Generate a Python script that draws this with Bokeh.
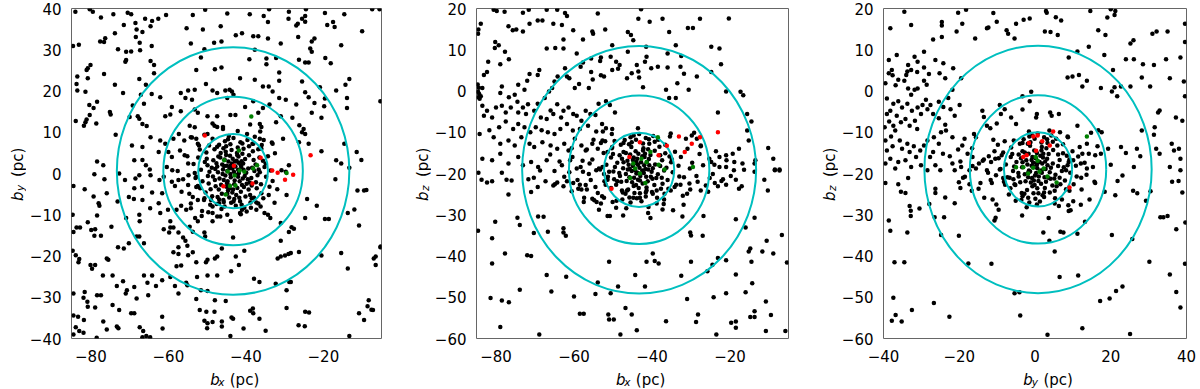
import math
from bokeh.plotting import figure
from bokeh.layouts import row, column
from bokeh.models import Range1d, FixedTicker, CustomJSTickFormatter
from bokeh.core.properties import value
from bokeh.embed import file_html
from bokeh.resources import INLINE

# ---------------- data ----------------
ring_radii = [9, 18, 30]
p1_center = (-43.3, 0.6)
p2_center = (-43.3, -19.1)
p3_center = (0.8, -19.0)

p1_black = [
(-84,39.2),(-80.3,39.8),(-79.5,39.2),(-74.2,38.6),(-70.5,39),(-69.6,38.6),(-77.4,37.8),(-66,37.5),(-64.2,37),(-62.6,37.5),(-60.6,38.4),(-53.7,38.4),(-50.5,39.7),(-44.8,38.8),(-39,38.6),(-35.4,38.2),(-34,39.8),(-28.9,39.2),(-29,37.5),(-24.5,39.8),(-24.7,38.2),(-25.5,37.5),(-19.6,38.9),(-14.6,38.6),(-7.4,39.8),(-5.5,39.8),
(-68.5,36.5),(-71.5,36),(-64.6,35.7),(-66.7,34.3),(-68.2,34.9),(-55.3,35.2),(-51.1,34.9),(-46.5,35.7),(-34.3,36.7),(-26.6,36.3),(-24.7,36.8),(-27,35.9),(-19,36),(-17.5,36.7),(-17.1,35.5),(-10,34.5),(-73.8,34),(-41,34),(-42.6,33.5),(-38.1,33.3),(-36.8,33.3),(-68.4,33.1),
(-77.6,32),(-76.3,32.8),(-76.6,31.9),(-67.4,31.7),(-64.3,30.9),(-54.2,31.5),(-48.2,31.7),(-46.3,32),(-34.3,32.7),(-31,31.5),(-26.5,33.1),(-22.3,32.7),(-23,32),(-23.4,30.3),(-15.4,31.1),(-83.1,31.2),(-84.6,30.9),(-73,30.1),(-70.9,29.5),(-69.6,29.6),(-67.3,29.9),(-50.7,30.1),(-37.7,30),
(-71.1,27.1),(-70.9,27.5),(-80.8,25.5),(-80.1,26.3),(-81.1,25.1),(-64.6,27.3),(-63.7,26.3),(-51.6,28.1),(-39.1,27.7),(-34.7,27.9),(-32.2,28),(-26.3,27.6),(-24.7,26.9),(-23.8,26.9),(-19.5,28),(-18.1,26.7),(-52.8,25.1),(-48,25.3),(-46.3,25.7),(-34.7,26.5),(-31.4,24.5),(-23,29.5),
(-83.5,23.5),(-80.8,23.1),(-76.6,24.1),(-73.8,21.5),(-67.5,22.9),(-65.8,21.5),(-63.7,24.3),(-50.3,21.7),(-45.3,20.1),(-44.2,20.3),(-43.6,19.9),(-41.5,23.1),(-37.7,22.7),(-35.6,21.1),(-34.1,21.1),(-31.4,22.5),(-25.5,22.3),(-20.9,20.9),(-13.3,22.9),(-14.3,21.5),(-16.7,20.1),(-83.7,21.7),(-83.5,20.1),(-81.4,19.8),(-71.7,19.5),
(-67.1,19.1),(-64.3,19.3),(-62.1,18.5),(-56.8,19.5),(-54.9,20.1),(-55.6,18.3),(-53.9,17.9),(-53.2,20.3),(-48.6,20.1),(-47.4,19.5),(-44.8,18.3),(-43.2,19.1),(-33.1,19.9),(-31.4,18.3),(-29.7,17.9),(-24.7,19.7),(-23.8,18.5),(-22.3,17.1),(-19.6,18.2),(-13.9,18.3),(-5.3,17.5),(-78.4,17.4),(-80.4,16.6),(-79.3,15.9),(-69.2,16.5),(-66.3,16.9),(-59.1,16.1),(-56.8,15.1),(-53.2,15.5),(-38.1,17.5),(-40.2,16.1),(-35.6,15.9),(-33.9,16.7),(-27,16.7),(-19.8,16.3),(-13.9,15.9),
(-75.1,14.9),(-74.9,14.3),(-80.3,14.2),(-81.1,13.1),(-83.9,12.7),(-81.4,12.4),(-81.8,11.6),(-78.6,12.1),(-67.9,13.9),(-67.5,13.3),(-70,13.7),(-66.7,12),(-65.6,11.5),(-60.8,13.9),(-59.5,14.3),(-52.4,14.7),(-49.9,13.9),(-47.4,13.9),(-48.6,12.1),(-47.4,11.3),(-44,14.2),(-42.7,14.2),(-36.8,14.7),(-36.4,12),(-36,11.3),(-32.2,12.4),(-31,13.9),(-28,13.5),(-23,14.7),(-20.5,13.5),(-26.2,11.7),(-25.1,10.8),(-73.6,9.4),(-54.5,11.6),(-53.2,11.2),(-49.9,9.6),(-45.9,11.3),
(-25.5,10),(-24.7,9.6),(-64.6,8.8),(-62.1,8),(-58.7,8.4),(-60.8,7.2),(-57.3,9.6),(-55.9,8),(-54.2,8.8),(-52.8,8.4),(-52.4,7.2),(-69.4,6.8),(-66.7,6.4),(-36.4,8.4),(-38.1,7.2),(-33.1,7.2),(-30.4,8.4),(-26.3,7.6),(-23.8,7.2),(-36,6),(-14.6,7.2),
(-78.4,2.9),(-76.8,2),(-68.8,3.2),(-66.7,3.3),(-65.8,2),(-62.5,5.2),(-60,5.2),(-59.1,4),(-57,5.6),(-55.8,4.4),(-54.9,2.4),(-20.5,5.4),(-16.7,3.2),(-11.4,5.2),(-10.2,3.3),(-15.4,2.4),(-13.3,1.4),(-29.7,0.4),(-28.9,2),(-60.4,1.6),(-59,0.8),(-57.6,0.6),(-79.1,-0.2),(-67.5,-0.4),(-64.6,-0.4),
(-76.5,-1.4),(-72.7,0),(-71.2,-1.6),(-68.5,-1.2),(-84.5,-3),(-81.6,-3.8),(-79.3,-5.6),(-78,-7.2),(-77.8,-7.8),(-75.9,-4.8),(-73.1,-6.8),(-70.2,-5.7),(-68.9,-6.2),(-66.7,-6.4),(-66.8,-3.2),(-68.8,-3.6),(-64.2,-4.6),(-62.3,-1.6),(-61.2,-0.8),(-64.8,1),
(-84.7,-10),(-80.8,-11.8),(-78.4,-10.2),(-84.5,-14.2),(-83.7,-13.1),(-82.8,-13.1),(-79.9,-13.7),(-78.9,-13.5),(-79.1,-15.1),(-77.4,-15.1),(-74.7,-12.9),(-70.9,-10.8),(-67.5,-10),(-67.4,-11.6),(-68.2,-15.3),(-67.5,-15.3),(-66.3,-16.9),(-70.2,-16.9),(-73,-17.9),(-71.5,-18.2),(-75.9,-20.6),(-75.5,-20.9),(-80.1,-22.2),(-78.9,-22.2),(-79.7,-23.1),(-83.9,-19.8),(-83,-20.7),(-83.2,-21.5),(-84.7,-18.7),
(-76.9,-24.7),(-74.4,-24.7),(-73.3,-27.3),(-71.7,-26.1),(-70.7,-28.3),(-71,-29.1),(-68.8,-27.5),(-66.3,-24.7),(-65.4,-26.5),(-64.2,-24.7),(-63.2,-27.3),(-61.6,-25.9),(-59.5,-25.1),(-58.3,-27.3),(-57.4,-29.1),(-65.2,-29.5),(-68.2,-30.3),(-84.5,-29.1),(-81.6,-28.7),(-81.9,-30.1),(-80.9,-31.1),(-78.4,-29.5),(-77.4,-29.5),(-78.9,-32.5),(-80.8,-32.3),(-74.4,-31.9),(-72.7,-33.1),(-69.6,-33.9),(-68.8,-33.9),(-84.5,-34.4),(-83.3,-34.7),(-81.8,-35.5),(-76.8,-35.9),(-73.3,-37.1),(-72.9,-37.5),(-75.9,-37.8),(-67.4,-37.3),(-66.5,-38.2),(-65.7,-39.4),(-64.7,-39.7),(-66.7,-39.7),(-83,-38.2),(-81.9,-38.6),(-84.5,-39),(-78.5,-39.8),(-83.9,-37.3),(-61.5,-37.6),(-61.6,-34.7),
(-60.1,-8.8),(-59.5,-11.6),(-59.5,-13.1),(-61.2,-13.5),(-59.8,-14.3),(-58.7,-13.1),(-57.4,-14.3),(-56.2,-15.5),(-55.6,-16.3),(-54.5,-12.9),(-53.7,-14.1),(-52.4,-11.6),(-53.1,-10.8),(-51.4,-10.3),(-49.7,-9.4),(-48.6,-9.6),(-48.6,-11.6),(-47.4,-10.4),(-50.7,-14.3),(-50.5,-15.3),(-55.1,-17.5),(-57.4,-17.9),(-58.7,-19.1),(-57.4,-19.5),(-54.9,-19.8),(-53.7,-19.1),(-52.8,-21.5),(-50.3,-21.5),(-49.9,-20.9),(-48,-20.6),(-47.4,-20.1),(-46.2,-18.2),(-43.3,-15.5),(-40.4,-18.7),(-42.6,-20.1),(-41.8,-22.2),(-43.8,-23.7),(-37.9,-25.5),(-36.5,-26.3),(-32.3,-26.7),(-28.8,-26.3),(-52.6,-25.1),(-49.9,-24.7),(-47.4,-24.7),(-57.9,-22.5),(-56.7,-22.3),(-55.4,-26.5),(-55.1,-27.1),(-51.6,-28.3),(-49.9,-28.5),(-52.8,-30.4),(-48,-30.7),(-45.2,-30.9),(-51.9,-33.1),(-50.2,-33.5),(-48.1,-33.5),(-50.7,-35.7),(-49.9,-36.3),(-48.6,-36),(-50,-37.5),(-46.2,-35.9),(-43.7,-34.9),(-43.3,-35.2),(-46.2,-37.1),(-44,-39.4),(-40.6,-37.6),(-38.9,-33.3),(-38.2,-32.7),(-38.1,-33.9),(-36.5,-35.2),(-34.9,-38.1),(-29.5,-32.6),(-29.5,-28.3),(-28.4,-26.3),(-26.4,-36.8),(-24.8,-37),(-24.7,-33.5),(-23.7,-33.7),(-31.8,-20.6),(-31,-20.1),(-29.9,-19.9),(-29,-19.5),(-28.4,-19.3),(-26.3,-19),(-20.5,-19.9),(-15.4,-19.3),(-13.7,-23),(-13.3,-39.4),(-10.8,-33.9),(-9.5,-35.5),(-8.3,-30.7),(-7.2,-33.1),(-6.5,-20.1),(-6.5,-22.2),(-5.2,-17.7),(-10.8,-12.6),(-18.6,-11),(-19.6,-11),(-24.7,-10.8),(-28.2,-13),(-27.6,-13.4),(-28.9,-14.2),(-31,-12),(-33.7,-10.8),(-34.3,-10),(-31,-16.3),(-13.7,-9.6),(-16.9,-1.4),(-11.2,-4.1),(-9.5,-4.1),(-8.9,-4),(-21.7,-7.8),(-24.2,-6.2),(-29.5,-5.2),(-38.5,-6),(-37.3,-8.8),(-36.2,-8),(-41,-8.8),(-41.5,-9.6),(-39.8,-9.2),(-44.8,-10),(-46.9,-7.2),(-45.8,-6.4),(-49,-6.4),(-50.7,-6),(-52.4,-6.4),(-53.7,-5.7),(-56.6,-4.4),(-58.3,-3),(-59.1,-2),(-57.4,-1.6),(-54.9,-2.8),(-54.8,-0.4),(-52.8,-0.8),(-52.8,-3.3),(-61.6,-4.8),(-62.5,-7.2),(-64.7,-8.4),(-62.1,-9.6),(-57.9,-8.8),(-56.7,-7.8),(-55.4,-8.8),(-54.2,-8.4),(-48.6,-8),(-43.2,-6.8),(-41.1,-7.6),(-37.3,-7),(-44.8,-4.9),(-12,-8.7),(-5.3,-17.9),(-7,-20.6),(-8.6,-32.2),(-7.6,-33),
# core
(-43.1,0.4),(-44.2,1.3),(-42.0,-0.8),(-45.3,-0.5),(-41.2,1.6),(-43.6,2.4),(-44.7,-1.9),(-42.4,3.1),(-46.1,2.2),(-40.3,-0.6),(-43.0,-2.6),(-45.5,3.4),(-41.0,-2.8),(-47.2,0.3),(-39.4,1.2),(-44.1,4.3),(-42.3,5.0),(-46.4,-2.7),(-40.2,3.5),(-48.0,-1.6),(-38.6,-1.1),(-45.2,5.3),(-43.5,-4.6),(-41.3,-4.4),(-47.1,4.1),(-39.2,4.4),(-48.8,1.4),(-37.5,2.2),(-44.3,-5.8),(-46.2,-4.9),(-40.1,-5.6),(-48.4,3.2),(-42.1,6.3),(-44.0,7.1),(-49.8,-0.6),(-36.4,0.3),(-38.2,5.4),(-47.3,-5.7),(-39.3,-3.9),(-50.6,2.8),(-35.6,3.1),(-45.4,7.8),(-41.4,7.6),(-49.1,-3.8),(-37.2,-3.6),(-43.2,8.6),(-38.3,7.2),(-48.1,5.9),(-50.2,5.1),(-36.1,-2.6),(-42.7,1.7),(-43.9,-0.9),(-44.8,0.6),(-41.8,0.1),(-42.9,-1.7),(-45.9,1.0),(-40.7,2.4),(-44.5,2.9),(-41.6,-1.9),(-46.8,-1.2),(-39.9,0.2),(-43.4,3.6),(-45.0,-3.2),(-42.2,-3.5),(-47.6,2.5),(-39.0,-2.2),(-46.6,3.9),(-40.9,4.8),(-44.6,-4.1),(-38.0,3.3),(-49.4,0.4),(-37.0,-0.4),(-45.8,6.1),(-40.6,6.0),(-47.8,-3.1),(-38.9,-5.2),(-51.2,-1.9),(-35.2,1.6),(-46.9,7.0),(-39.6,8.1),(-43.8,-7.1),(-41.5,-6.7),(-45.7,-6.9),(-51.6,0.9),(-34.8,-0.8),(-49.5,6.8),(-36.8,5.9),(-50.4,-4.6),(-36.0,-4.8),(-42.6,-7.8),(-47.5,-7.4),(-38.8,-7.0),(-52.3,3.9),(-34.3,4.2),(-44.4,9.1),(-39.7,9.6),(-50.8,-6.4),(-35.5,-6.0),(-53.0,-1.1),(-33.6,0.7),(-48.6,8.4),(-37.7,8.9),(-46.3,-8.6),(-40.4,-8.3),(-43.7,5.7),(-41.1,3.0),(-46.0,-0.1),(-42.5,-5.2),(-44.9,-2.3),(-40.5,-3.3),(-47.9,1.1),(-41.9,4.1),(-45.1,4.5),(-39.5,-1.4),(-42.8,2.9),(-43.3,-3.9),(-46.5,5.0),(-38.4,1.4),(-44.0,-0.1),(-42.0,0.9),(-45.6,1.8),(-40.8,-1.2),(-43.9,1.9),(-41.3,2.0),(-44.3,-2.9),(-47.0,-3.9),(-36.7,1.0),(-38.5,-2.9),(-49.9,2.0),(-37.9,-5.9),(-48.7,-5.5),(-35.9,6.9),(-51.9,5.8),(-33.9,-3.2),(-53.5,2.3),(-52.4,-3.0),(-34.1,-5.2),
(-43.5,1.2),(-42.6,-0.3),(-44.9,1.9),(-41.9,2.6),(-45.7,-1.6),(-40.6,0.9),(-44.2,-3.6),(-42.2,4.4),(-47.4,1.7),(-39.8,-2.5),(-45.1,6.6),(-41.7,-5.9),(-48.5,-0.7),(-37.8,0.6),(-46.9,-6.3),(-39.2,6.6),(-50.1,3.6),(-36.5,3.9),(-43.0,-6.2),(-44.6,8.3),(-49.6,-2.4),(-37.4,-2.1),(-47.4,6.5),(-40.9,7.3),(-45.5,-8.0),(-38.7,-8.3),(-51.8,-3.6),(-34.9,2.4),(-53.2,0.1),(-33.1,-1.8),(-52.1,6.8),(-35.4,8.1),(-49.2,-7.6),(-36.8,-7.3),(-42.1,10.3),(-45.9,10.8),(-41.3,-9.9),(-46.6,-10.4),(-54.6,-4.9),(-32.5,4.9),(-55.1,4.2),(-31.9,-3.8),(-50.7,9.4),(-36.3,10.2),(-51.3,-9.1),(-35.2,-9.6),(-56.2,-1.4),(-30.8,0.8),(-48.1,11.6),(-38.9,11.9),(-43.9,-11.5),(-53.9,8.7),(-54.2,-7.3),(-33.3,7.5),(-32.6,-7.1),
]
p1_red = [(-50.6,9.2),(-23.3,4.4),(-36.2,3.8),(-43.1,1.9),(-33.2,0.7),(-31.8,0.2),(-27.8,-0.3),(-29.9,-1.5),(-38.3,-2.4),(-45.8,-3.1)]
p1_green = [(-38.6,13.8),(-41.8,5.6),(-45.6,3.2),(-37.1,2),(-38.1,1.2),(-29.5,0.1),(-44.7,0.5),(-41.6,0.7),(-40.4,0.4),(-42.9,-0.5),(-42.7,-2.9),(-44.1,-3),(-45.2,-5.1)]

p2_black = [
(-80.6,19.7),(-79.8,19.4),(-77.8,19.2),(-73.1,19),(-71.6,19.7),(-67,19.7),(-64.3,19.7),(-62.3,18.9),(-61.8,18.2),(-53.9,18.8),(-42.8,19.8),(-43.5,17.5),(-40.6,16.8),(-37.3,17.5),(-27.7,17.5),(-20.3,17.6),(-29.5,15.3),(-30.8,15.3),(-35.6,14.3),(-83.9,16.3),(-84.5,14.9),(-84.6,13.9),(-76.8,15.7),(-75.7,14.7),(-74.8,14.9),(-73.1,14.4),(-71.4,16.3),(-69.3,17.1),(-68.1,17.1),(-65.3,16.3),(-63.1,16),(-60.2,14.7),(-55.3,14.4),(-55.1,13.9),(-52,14.9),(-46.2,14.3),(-45.4,13.6),(-57.7,12.5),(-62.7,12.5),(-80.2,11.9),(-79.3,11.1),(-80.3,10.4),(-77.7,9.5),(-76.7,7.7),(-78.9,6.5),(-82,7.1),(-83.1,3.9),(-82.3,4.6),(-83.5,0.7),(-84.3,-0.7),(-84.5,-1.5),(-83.9,-1.3),
(-67,10.3),(-64.8,10.4),(-62.7,10.3),(-59.3,9.1),(-58.3,5.9),(-57.7,6.9),(-55.6,7.9),(-53.1,8.1),(-53.3,7.3),(-50.6,8.3),(-49.2,7.1),(-48.3,6.3),(-48.7,5.4),(-43.5,4.7),(-43.3,3.3),(-42.3,0.9),(-46.4,3.1),(-45.2,4.3),(-50.2,5.1),(-52.3,3.5),(-53.1,3.8),(-55.2,2.8),(-55.6,4.6),(-56.2,0.7),(-58.7,1.7),(-59.8,0.7),(-61.2,3.1),(-61.8,3.5),(-62.3,5.5),(-64.2,3.5),(-65,2.3),(-65.6,0.7),(-66.4,-0.1),(-67.5,-1.7),(-68.9,5.1),(-69.3,3.9),(-71.4,4.1),(-72,2.5),(-72.7,0.3),(-74.3,1.5),(-75.2,-0.9),(-76.7,-1.5),(-78.5,1.1),(-78.9,-0.5),(-80,-4),(-78.5,-3.6),(-77.5,-5.2),(-76.2,-4),(-74.5,-2.6),(-74.3,-5.2),(-73.1,-4),(-72.3,-5.6),(-71.8,-3.2),(-70.2,-4.8),(-69.3,-3.1),(-68.5,-6.4),(-67,-6.8),(-66,-4.7),(-65.3,-5.6),(-64.3,-3.2),(-63.3,-6.4),(-62.7,-4.8),(-61.4,-4),(-60.2,-5.6),(-59.3,-6),(-58.1,-7.2),(-57,-4.8),(-55.8,-5.6),(-54.5,-5.8),(-53.7,-3.1),(-51.8,-2.5),(-50.8,-3.4),(-49.5,-5.2),(-52.8,-8),(-51.8,-9),(-50.2,-9.2),(-50.3,-10.4),(-54.3,-9.8),(-56.4,-8.4),(-58.5,-9.2),(-60.3,-9.6),(-61.8,-8),(-63.5,-9.2),(-65,-10.4),(-66.7,-10),(-68.3,-9.5),(-69.8,-8.8),(-71.2,-10),(-72.7,-8.8),(-74.3,-8),(-75.6,-9.2),(-77.5,-7.4),(-79.2,-8.8),(-81,-6.4),(-82.3,-4.8),(-83.5,-3.6),(-83.1,-6),(-81.7,-9.5),(-84.2,-10.4),(-80.6,-11.2),(-78.9,-12.8),(-76.8,-12),(-75.2,-13.2),(-73.5,-11.2),(-71.4,-12.8),(-70.2,-13.6),(-68.1,-12.4),(-66,-13.2),(-64.3,-14),(-62.5,-12.8),(-61.4,-14.4),(-59.8,-11.6),(-58.1,-13.2),(-57,-14.4),(-55.3,-12.8),(-53.9,-14),(-52.7,-12),(-51.4,-14.8),(-50.2,-13.6),(-83.5,-16.4),(-81,-16.8),(-78.9,-15.2),(-76.8,-17.6),(-74.3,-16),(-73.1,-18),(-71,-17.2),(-69.2,-18.4),(-67,-16.8),(-65,-19.4),(-63.1,-18),(-61,-16.8),(-59.3,-18.8),(-57.7,-19.6),(-56,-17.6),(-54.3,-19.2),(-52.7,-18.4),(-51,-19.6),
(-43.9,6.3),(-41.8,7.1),(-41.4,8.3),(-40.2,5.5),(-38.5,5.9),(-36,5.7),(-32.7,5.9),(-31.8,4.2),(-28.5,3.5),(-33.5,1.9),(-36.4,0.3),(-35.6,-1.7),(-33.9,-1.7),(-30.6,0.3),(-24.8,4.6),(-22.3,6.5),(-36,9.1),(-32.5,8.5),(-41.5,10.7),(-46.2,9.5),(-50.2,11.1),(-44.8,12.3),(-33.9,11.1),(-24.8,10.7),(-22.7,10.3),(-17.3,-0.2),(-16.6,-1),(-21,-0.1),(-23.1,-5.2),(-15.6,-5.6),(-14.5,-7.4),(-15.2,-12),(-15.6,-9.6),(-10.2,-13.8),(-8.9,-16.4),(-8.5,-19.2),(-7.3,-19),(-13.5,-16.8),(-13.7,-17.6),(-13.7,-19.6),(-17.7,-14),(-19.3,-15.2),(-21,-15.6),(-22.7,-16),(-18.9,-17.2),(-16.8,-17.6),(-19,-19.2),(-21,-18.4),(-22.7,-18.4),(-24.8,-17.2),(-27.5,-13.2),(-28.5,-11.6),(-29.8,-10.8),
(-84.5,-19.8),(-83.7,-21.5),(-82.3,-22.2),(-81,-21.9),(-78.5,-19.8),(-77.3,-21.5),(-76,-21.7),(-76.8,-25.1),(-71.7,-21.4),(-70.3,-21),(-71,-24.5),(-69.3,-23.3),(-68.7,-19.3),(-67.3,-21.9),(-65.3,-22.9),(-64.3,-22.2),(-62.7,-23.1),(-61.8,-21.9),(-60.6,-24.3),(-60.2,-22.3),(-58.5,-22.7),(-58.1,-23.9),(-57.5,-26.9),(-56.7,-23.9),(-55.3,-26.1),(-54.2,-26.9),(-53.9,-24.7),(-52.8,-25.5),(-53.1,-27.3),(-52.3,-25.9),(-51.4,-30.3),(-50.8,-30.3),(-51.4,-21.5),(-52.3,-20.1),(-48.9,-21.9),(-49.2,-28.3),(-47.7,-24.1),(-46.4,-24.1),(-44.8,-25.9),(-43.1,-25.9),(-41.4,-24.1),(-41,-29.6),(-39.8,-24.9),(-37.7,-23.7),(-36.8,-24.9),(-37.3,-28.7),(-35.2,-24.1),(-34.2,-23.3),(-32.7,-22.7),(-32.2,-30.4),(-31,-24.9),(-30.2,-23.9),(-27.5,-24.1),(-26.8,-30.3),(-25.2,-21.1),(-23.9,-22.3),(-23.1,-23.1),(-21.8,-21.4),(-21,-22.7),(-18.5,-21.5),(-17.7,-23.7),(-17,-23.1),(-16.4,-19.1),(-11.2,-21.5),(-8.5,-19),(-7.3,-19.3),(-10.3,-24.1),(-18.5,-31.1),(-16,-33.1),(-13.7,-30.7),(-10.6,-36.3),(-6.7,-34.9),(-14.8,-38.2),(-15.2,-38.9),(-11.7,-38.9),(-8.9,-39.4),(-5.4,-41.6),(-14.5,-41.4),(-14.3,-46.6),(-13.7,-53.4),(-14.8,-54.8),(-13.7,-54.8),(-10.8,-51),(-9.5,-54.3),(-10.8,-58.2),(-5.8,-58.2),(-16,-48.8),(-19.7,-56.2),(-18.5,-55.9),(-18.5,-57.4),(-21,-49),(-18.5,-44.5),(-21,-41),(-24.5,-42.1),(-25.8,-43.7),(-23.1,-40.5),(-27,-35.1),(-30.2,-34.3),(-30,-35),(-32.5,-44.8),(-30,-41.4),(-31,-50.4),(-28.2,-54.2),(-24.2,-50),(-23.5,-59),(-28.7,-56),(-36.4,-55.8),(-38.3,-41.8),(-39.3,-41.2),(-39.8,-39.4),(-41.4,-41.4),(-41.8,-47.4),(-44.3,-44.6),(-45.2,-54.2),(-43.9,-58),(-48.1,-59),(-46.8,-52.6),(-48.7,-47.4),(-50.6,-49),(-51,-41.4),(-53.9,-46.4),(-54.5,-49.2),(-58.5,-54),(-57.5,-54),(-60,-49.8),(-62,-45),(-62.7,-34.3),(-62.1,-35.1),(-62.7,-33.3),(-66.7,-34.1),(-67,-44.6),(-65.8,-48.6),(-67.8,-30.5),(-69.2,-30.4),(-70.3,-34.4),(-72,-39.8),(-71,-40),(-73.9,-48.2),(-74.5,-30.7),(-73.9,-32.5),(-77.7,-39.4),(-76.7,-51.2),(-78.5,-50.8),(-81.4,-50.2),(-78.9,-57.2),(-68.9,-59),(-80.2,-31.7),(-81,-35.7),(-81,-41.8),(-84.6,-33.9),(-51,-55.4),(-49.8,-55.4),(-51.2,-54.2),(-84.6,-0.2),(-84.4,0.8),(-84.7,1.6),(-84.2,-1.9),
# core
(-43.2,-18.6),(-44.4,-17.5),(-42.1,-19.9),(-45.2,-19.4),(-41.3,-17.2),(-43.8,-16.4),(-44.6,-21.0),(-42.5,-15.8),(-46.3,-16.9),(-40.1,-19.6),(-43.1,-21.7),(-45.6,-15.4),(-41.1,-21.9),(-47.4,-18.7),(-39.2,-17.8),(-44.2,-14.6),(-42.2,-13.9),(-46.5,-21.8),(-40.4,-15.5),(-48.2,-20.6),(-38.5,-20.2),(-45.3,-13.6),(-43.4,-23.5),(-41.4,-23.4),(-47.3,-14.8),(-39.3,-14.5),(-48.9,-17.4),(-37.4,-16.8),(-44.5,-24.7),(-46.1,-23.9),(-40.0,-24.5),(-48.3,-15.6),(-42.3,-12.7),(-44.1,-11.8),(-49.9,-19.5),(-36.3,-18.6),(-38.1,-13.5),(-47.5,-24.6),(-39.4,-22.8),(-50.5,-16.1),(-35.5,-15.9),(-45.5,-11.2),(-41.6,-11.4),(-49.2,-22.7),(-37.3,-22.5),(-43.3,-10.4),(-38.4,-11.8),(-48.0,-13.0),(-50.3,-13.9),(-36.0,-21.6),(-42.8,-17.3),(-43.7,-19.8),(-44.9,-18.2),(-41.7,-18.9),(-43.0,-20.6),(-46.0,-17.9),(-40.8,-16.5),(-44.7,-16.1),(-41.5,-20.8),(-46.7,-20.1),(-39.8,-18.7),(-43.5,-15.2),(-45.1,-22.1),(-42.4,-22.4),(-47.7,-16.4),(-38.9,-21.1),(-46.7,-15.0),(-41.0,-14.1),(-44.7,-23.0),(-37.9,-15.6),(-49.5,-18.4),(-36.9,-19.3),(-45.9,-12.9),(-40.7,-12.8),(-47.9,-22.0),(-38.8,-24.1),(-51.3,-20.8),(-35.1,-17.3),(-47.0,-11.9),(-39.7,-10.9),(-43.9,-26.0),(-41.6,-25.6),(-45.8,-25.8),(-51.7,-17.9),(-34.7,-19.7),(-49.6,-12.1),(-36.6,-13.0),(-50.5,-23.5),(-35.8,-23.7),(-42.7,-26.7),(-47.6,-26.3),(-38.7,-25.9),(-52.4,-15.0),(-34.1,-14.7),(-52.2,-21.9),(-33.2,-18.1),(-53.6,-18.8),(-32.6,-16.0),(-31.8,-20.9),(-54.5,-23.3),(-30.9,-14.0),(-55.3,-16.6),(-29.7,-17.4),(-33.8,-22.7),(-53.1,-12.6),(-30.4,-22.4),(-56.2,-20.1),(-28.6,-20.6),(-57.0,-22.8),(-27.8,-15.3),(-56.7,-14.2),(-26.9,-18.0),(-58.3,-18.4),(-26.2,-22.9),(-59.1,-21.6),(-25.3,-16.4),(-60.4,-16.0),(-24.4,-20.1),(-61.2,-19.7),(-23.6,-14.6),(-43.6,-9.0),(-40.9,-28.1),(-46.6,-28.4),(-37.0,-27.4),(-50.1,-26.9),(-35.2,-10.3),(-52.6,-9.8),(-32.1,-25.4),(-54.8,-26.5),(-31.3,-11.6),(-44.0,-20.0),(-42.0,-18.0),(-45.7,-18.9),(-40.3,-20.8),(-44.3,-19.2),(-41.9,-16.0),(-43.6,-21.5),(-46.2,-19.0),(-41.0,-19.0),(-44.0,-17.2),
(-43.6,-17.9),(-42.5,-19.3),(-44.9,-16.7),(-41.8,-15.2),(-45.8,-20.9),(-40.7,-18.0),(-44.1,-22.8),(-42.3,-14.4),(-47.3,-17.3),(-39.9,-21.3),(-45.2,-12.4),(-41.6,-24.6),(-48.4,-19.9),(-37.9,-18.2),(-46.8,-24.9),(-39.3,-12.3),(-50.0,-15.3),(-36.6,-15.1),(-43.1,-24.8),(-44.7,-10.8),(-49.7,-21.4),(-37.5,-21.0),(-47.3,-12.6),(-40.8,-11.7),(-45.5,-27.0),(-38.8,-27.3),(-51.9,-22.7),(-34.9,-16.6),(-53.3,-19.0),(-33.0,-20.7),(-52.0,-12.2),(-35.4,-11.0),(-49.1,-26.6),(-36.9,-26.3),(-55.7,-21.6),(-30.3,-18.8),(-57.8,-16.9),(-28.3,-22.0),(-58.9,-23.7),(-27.5,-13.4),(-60.6,-13.9),(-25.6,-24.4),(-62.5,-20.8),(-24.0,-17.9),(-63.7,-17.1),(-22.2,-21.8),(-55.0,-11.8),(-31.9,-27.6),(-57.4,-25.9),(-29.2,-10.1),(-53.6,-28.8),(-34.6,-28.9),(-47.4,-30.2),(-40.4,-30.8),(-64.9,-22.6),(-20.9,-16.8),(-66.1,-15.4),(-19.8,-20.6),
]
p2_red = [(-43.1,-12.4),(-33.1,-11),(-27.7,-11.2),(-23.1,-10),(-36.2,-13.3),(-29.8,-12.8),(-31.6,-14.8),(-38.3,-15.6),(-45.8,-16),(-50.4,-23.7)]
p2_green = [(-38.5,-11.2),(-40.4,-14.8),(-42.7,-16.4),(-41.4,-17.3),(-38.3,-17.9),(-44.8,-17.6),(-44.3,-18.8),(-43.1,-20),(-36.8,-19),(-45.6,-21.1),(-41.7,-22.3),(-29.5,-18.4)]

p3_black = [
(-34.5,19.2),(-18.2,19.7),(-20.3,19),(-11,18.9),(2.9,19.4),(3.1,19),(5.5,17.9),(6.9,17.1),(-3,17.3),(-5,16.3),(-1.4,17.6),(-10.1,16.8),(-12.7,15.2),(-12.3,15.4),(-19.2,16.3),(-24.6,16.7),(-24.6,15.9),(-32.7,16),(-38.2,15.2),(-20.7,14.4),(-26.9,12.5),(-24.6,13.1),(-15.8,12.7),(-7.5,14.7),(-7.1,13.9),(-5.4,12.7),(2.6,14.4),(4.1,14.3),(6,13.6),(14.6,19.4),(20,19.8),(21.2,19.4),(21,18.4),(19.1,17.8),(16.7,14.7),(18.6,13.6),(25.2,11.5),(26,12.3),(31,13.9),(32.1,14.4),(35,14.4),(39.6,16.3),(39.6,11.9),(38.4,8.1),(34.6,7.7),(31.4,6.3),(28.5,6.5),(26.1,7.7),(24,7.7),(20.6,5.1),(18.3,8.7),(14.2,10.7),(11.2,9.6),(8.9,8.1),(11.6,3.9),(9.9,3.5),(12.5,1.1),(8.6,3.3),(13.7,2.5),(17.4,0.7),(21,0.9),(20.3,-0.1),(21.7,-1.3),(22.7,1.1),(25.2,1.1),(28.2,3.3),(30.4,1.1),(35.6,3.1),(39.3,2.3),(39.6,-1.3),(38.9,-7.2),(37.2,-6.4),(32.9,-4.7),(32.5,-5.2),(31.6,-8.8),(31.4,-10.6),(32,-14),(32.9,-15.2),(36.1,-12.8),(36.7,-14.4),(38,-14),(38.4,-16.4),(35.6,-18.4),(38.4,-19.2),(28.2,-9.6),(26.9,-14),(27.8,-15.8),(26.1,-18.4),(24,-15),(22.7,-13.6),(19.3,-14),(17.4,-15.2),(15.9,-15.6),(13.7,-12.8),(12.5,-15.2),(12.1,-17.6),(8.6,-18),(10.1,-16.8),(8.2,-19.2),(17.6,-10),(16.7,-9.5),(11.2,-8.4),(6.3,-5.6),(4.4,-6),(4,-5.2),(0.5,-5.6),(0.3,-6.4),(-1.4,-2.5),(-3.3,-1.3),(-1,-0.2),(-3.3,-4.5),(-6.3,-6.4),(-5,-8),(-9,-5.6),(-8,-4.4),(-9.3,-3.4),(-10.1,-7.9),(-12.7,-8.4),(-13.9,-4.8),(-13.5,-6.3),(-11.8,-9),(-16.1,-10.4),(-15.6,-11.2),(-18.6,-11.6),(-19.2,-13.2),(-21.8,-11.2),(-20.3,-14.2),(-23.5,-9.6),(-23.7,-8.2),(-24.8,-10),(-25.4,-12.8),(-26.9,-14.8),(-27.7,-16),(-28.4,-12),(-29.3,-13.2),(-26.7,-11.2),(-24.3,-15.2),(-22.5,-15.8),(-21.8,-17.6),(-17.8,-15.2),(-16.5,-16),(-16.5,-18.2),(-14.8,-17.6),(-13.5,-16.6),(-12.2,-15.8),(-10.7,-14.6),(-10.5,-16.4),(-8.8,-15.6),(-12.7,-19.2),(-15.6,-18.8),(-17.3,-19.2),(-19.5,-18.4),(-21.2,-19.2),
(-37.8,5.1),(-37.6,3.8),(-38.6,4.3),(-39.5,1.9),(-39.1,-1.8),(-36.8,1.4),(-36.1,2.7),(-34.5,2.5),(-34,3.9),(-33.5,0.6),(-32.7,-0.9),(-31.8,0.3),(-31,0.6),(-29.3,2.5),(-28.6,1.5),(-28.8,-2.1),(-29.7,-3.4),(-31,-4),(-32.5,-4.8),(-33.7,-3.1),(-35.1,-4),(-36.1,-2.5),(-37.4,-3.1),(-38.2,-4.8),(-39.1,-5.6),(-38.5,-7.4),(-36.5,-6),(-35.4,-7.6),(-34.2,-6.8),(-33.1,-8.4),(-31.7,-7.2),(-31.1,-9.2),(-30.1,-5.6),(-28.4,-4.4),(-26.9,-5.6),(-27.6,-3.4),(-25.4,-2.6),(-24.2,-3.9),(-22.9,-1.7),(-22.3,-4.4),(-21.2,-6),(-21.8,0.3),(-19.5,3.1),(-19.9,-3.4),(-25.4,-6.6),(-36.9,-9.6),(-38,-11),(-39.5,-12),(-39.1,-14.4),(-37.6,-13.4),(-35.7,-12),(-35.1,-14),(-33.7,-12.8),(-33.1,-14.8),(-32,-13.4),(-31.4,-16),(-30.3,-14.4),(-34.2,-16.8),(-36.1,-17.2),(-38.2,-16.4),(-39.5,-17.6),(-36.9,-18.8),(-32.7,-18.4),(-30.1,-18),(-28.4,-19.2),(-26.3,-18),(-25,-19.2),(-37.4,-8.4),(-39.7,-8.8),
(-32.7,5.1),(-31.1,4.6),(-33.7,4.7),(-29.3,5.7),(-28,4.1),(-25.2,4.3),(-23.7,3.1),(-33.5,6.3),(-31,7.1),(-36.5,8.7),(-38.6,7.5),(-26.3,7.5),(-29.3,9.5),(-24.2,6.7),(-21.6,5.5),(-31.8,8.3),
(-39.5,-22.3),(-36.1,-22.6),(-35.4,-24.4),(-34.2,-24.7),(-33.5,-21.1),(-33.1,-27.9),(-32.8,-29),(-32.8,-30.3),(-38.6,-31.4),(-38.2,-33.9),(-33.7,-34.3),(-30.5,-28.5),(-27.9,-27.4),(-26.3,-23.7),(-26.3,-24.7),(-26.5,-30.6),(-24,-30.6),(-24.8,-34.9),(-23.7,-25.8),(-21.2,-27.2),(-20.1,-22.1),(-20.1,-35.1),(-19,-21),(-19.7,-23.5),(-17.3,-22.6),(-16.7,-24.2),(-14.4,-22.3),(-11.4,-22.3),(-11.2,-26.3),(-10.7,-31.4),(-10.4,-30.7),(-10.2,-27.5),(-11.5,-41.9),(-17.6,-41.8),(-26.7,-51.4),(-32.5,-53.1),(-37.4,-50.1),(-37.8,-55.7),(-36.8,-54.3),(-35.2,-55.9),(-37.1,-41.5),(-34.5,-41.5),(-22.6,-54.7),(-5.4,-49),(-4.1,-48.8),(-3.9,-54.4),(3.3,-59.1),(2.2,-34.3),(3.8,-36.3),(5.2,-38.9),(6.5,-45.1),(6.7,-34.1),(7.5,-34.3),(10.1,-26.7),(8.8,-27.7),(8.9,-29.1),(6.3,-27.9),(5.7,-23.1),(9.1,-24.2),(11.2,-34.6),(11.4,-44.7),(12.5,-57.5),(13.2,-31.7),(14.4,-26.3),(15.9,-22.3),(17.2,-50.9),(19.7,-50.3),(20.3,-34.9),(21.4,-48.5),(23.1,-47.4),(25.1,-58.9),(25.7,-35.9),(25.9,-24.2),(27,-24.8),(21.2,-25.3),(23.1,-20.5),(30.2,-41.4),(30.5,-24.3),(29.3,-26.6),(33.1,-30.6),(33.9,-30.6),(35,-30.3),(35.6,-44.5),(37.3,-33.5),(37.3,-48.7),(38.4,-52.5),(39.6,-41.9),(39.7,-31.9),(37.9,-21.8),(36.2,-22),(38.9,-24.6),(12.3,-23.9),(-6.9,-25.1),(-3.3,-25.5),(-2.2,-28.2),(0.5,-27.5),(2,-25.3),(-5.4,-22.6),(-6.7,-21),(-8.4,-21.1),
# core
(0.6,-18.7),(-0.5,-17.4),(1.8,-19.8),(-1.3,-19.5),(2.7,-17.1),(0.2,-16.3),(-0.8,-21.1),(1.4,-15.7),(-2.3,-16.8),(3.9,-19.7),(0.9,-21.8),(-1.7,-15.2),(2.9,-22.0),(-3.4,-18.5),(4.7,-17.6),(-0.2,-14.4),(1.8,-13.6),(-2.5,-21.9),(3.6,-15.3),(-4.3,-20.7),(5.4,-20.3),(-1.3,-13.3),(0.6,-23.6),(2.6,-23.5),(-3.3,-14.6),(4.8,-14.3),(-4.9,-17.2),(6.5,-16.7),(-0.4,-24.8),(-2.1,-24.0),(3.9,-24.6),(-4.3,-15.4),(1.7,-12.5),(-0.1,-11.6),(-5.8,-19.4),(7.6,-18.5),(5.9,-13.2),(-3.5,-24.7),(4.6,-22.9),(-6.4,-16.0),(8.4,-15.7),(-1.5,-11.0),(2.4,-11.2),(-5.2,-22.8),(6.7,-22.6),(0.7,-10.3),(5.6,-11.6),(-4.0,-12.8),(-6.3,-13.7),(7.9,-21.7),(1.2,-17.2),(0.3,-19.9),(-0.9,-18.1),(2.3,-18.9),(1.0,-20.7),(-2.0,-17.8),(3.2,-16.4),(-0.7,-16.0),(2.5,-20.9),(-2.7,-20.2),(4.2,-18.6),(0.5,-15.0),(-1.1,-22.2),(1.6,-22.5),(-3.7,-16.3),(5.1,-21.2),(-2.7,-14.9),(3.0,-13.9),(-0.7,-23.1),(6.1,-15.4),(-5.5,-18.3),(7.1,-19.4),(-1.9,-12.8),(3.3,-12.6),(-3.9,-22.1),(5.2,-24.2),(-7.3,-20.9),(8.9,-17.2),(-3.0,-11.7),(4.3,-10.8),(0.1,-26.1),(2.4,-25.7),(-1.8,-25.9),(-7.7,-17.8),(9.3,-19.8),(-5.6,-12.0),(7.4,-12.9),(-6.5,-23.6),(8.2,-23.8),(1.3,-26.8),(-3.6,-26.4),(5.3,-26.0),(-8.4,-14.9),(9.9,-14.6),(-8.2,-22.0),(10.8,-18.1),(-9.1,-18.9),(11.4,-15.9),(12.2,-21.0),(-9.6,-16.3),(13.1,-17.4),(-10.3,-20.4),(10.2,-22.6),(-9.8,-13.0),(6.6,-10.0),(3.8,-9.6),(-1.6,-9.8),(8.7,-11.2),(-0.4,-18.4),(1.9,-17.6),(-1.6,-19.3),(3.5,-21.0),(0.0,-20.5),(2.1,-16.1),(-0.3,-21.7),(-1.8,-19.8),(2.8,-18.9),(0.4,-17.5),(11.8,-13.6),(14.2,-15.2),(-11.6,-17.2),(13.6,-20.3),(-12.4,-19.8),(15.3,-18.4),
(0.5,-17.9),(1.6,-19.3),(-0.9,-16.7),(2.2,-15.2),(-1.8,-20.9),(3.3,-18.0),(-0.1,-22.8),(1.7,-14.4),(-3.3,-17.3),(4.1,-21.3),(-1.2,-12.4),(2.4,-24.6),(-4.4,-19.9),(6.1,-18.2),(-2.8,-24.9),(4.7,-12.3),(-6.0,-15.3),(7.4,-15.1),(0.9,-24.8),(-0.7,-10.8),(-5.7,-21.4),(6.5,-21.0),(-3.3,-12.6),(3.2,-11.7),(-1.5,-27.0),(5.2,-27.3),(-7.9,-22.7),(9.1,-16.6),(-9.3,-19.0),(11.0,-20.7),(-8.0,-12.2),(8.6,-11.0),(-5.1,-26.6),(7.1,-26.3),(-11.7,-21.6),(13.7,-18.8),(-13.8,-16.9),(15.7,-22.0),(-14.9,-23.7),(16.5,-13.4),(-16.6,-13.9),(18.4,-24.4),(-18.5,-20.8),(20.0,-17.9),(-19.7,-17.1),(21.8,-21.8),(-11.0,-11.8),(12.1,-27.6),(-13.4,-25.9),(14.8,-10.1),(-9.6,-28.8),(9.4,-28.9),(-3.4,-30.2),(3.6,-30.8),
]
p3_red = [(-1.6,-12.6),(-0.4,-11),(0.7,-10.8),(4.8,-9.8),(1.9,-12.2),(3.9,-13.2),(0.3,-14.5),(-2.2,-15.6),(-3.1,-16),(9.1,-23.4)]
p3_green = [(13.7,-11),(-5,-18.5),(-3.1,-18.5),(-0.5,-18.6),(0.7,-16.9),(2.3,-18.8),(1.2,-19.6),(-1.8,-20),(3.3,-20.7),(5.7,-22.2),(0.2,-16)]

x_ticks_bx = [-80, -60, -40, -20]
x_ticks_by = [-40, -20, 0, 20, 40]
y_ticks_by = [-40, -30, -20, -10, 0, 10, 20, 30, 40]
y_ticks_bz = [-60, -50, -40, -30, -20, -10, 0, 10, 20]

# ---------------- layout / styling ----------------
FONT = "DejaVu Sans"
CYAN = "#00bfbf"
TOTAL_H = 388
XL_H = 24                 # strip holding the x-axis label
MAIN_H = TOTAL_H - XL_H
TOP, BOTTOM = 8, 23
FH = MAIN_H - TOP - BOTTOM
YL_W = 26                 # strip holding the y-axis label

fmt = CustomJSTickFormatter(code="return tick < 0 ? '\\u2212' + Math.abs(tick) : '' + tick")


def blank_fig(w, h):
    f = figure(width=w, height=h, x_range=Range1d(0, w), y_range=Range1d(0, h),
               output_backend="svg", toolbar_location=None, min_border=0,
               min_border_left=0, min_border_right=0, min_border_top=0, min_border_bottom=0,
               x_axis_location=None, y_axis_location=None)
    f.grid.visible = False
    f.outline_line_color = None
    f.background_fill_color = "white"
    f.border_fill_color = "white"
    return f


def txt(f, x, y, s, size, italic, angle=0.0):
    f.text(x=[x], y=[y], text=[s], angle=angle, text_font=value(FONT),
           text_font_size=size, text_font_style="italic" if italic else "normal",
           text_color="black", text_align="left", text_baseline="alphabetic")


def panel(left, fw, right, xr, yr, xt, yt, center, black, red, green, xsub, ysub):
    width = left + fw + right
    p = figure(width=width, height=MAIN_H, x_range=Range1d(*xr), y_range=Range1d(*yr),
               output_backend="svg", toolbar_location=None,
               min_border_left=left, min_border_right=right,
               min_border_top=TOP, min_border_bottom=BOTTOM)
    p.xgrid.visible = False
    p.ygrid.visible = False
    p.outline_line_color = "#666666"
    p.outline_line_width = 1
    p.background_fill_color = "white"
    p.border_fill_color = "white"
    for ax, ticks, sto in ((p.xaxis[0], xt, 5), (p.yaxis[0], yt, 4)):
        ax.ticker = FixedTicker(ticks=ticks)
        ax.formatter = fmt
        ax.axis_line_color = None
        ax.major_tick_line_color = None
        ax.minor_tick_line_color = None
        ax.major_label_text_font = FONT
        ax.major_label_text_font_size = "15px"
        ax.major_label_text_color = "black"
        ax.major_label_standoff = sto
        ax.axis_label = None

    p.scatter([a for a, b in black], [b for a, b in black], size=4.5,
              fill_color="black", line_color=None)
    n = len(ring_radii)
    p.ellipse(x=[center[0]] * n, y=[center[1]] * n,
              width=[2 * r for r in ring_radii], height=[2 * r for r in ring_radii],
              fill_color=None, line_color=CYAN, line_width=2)
    p.scatter([a for a, b in red], [b for a, b in red], size=4.5, fill_color="red", line_color=None)
    p.scatter([a for a, b in green], [b for a, b in green], size=4.5, fill_color="green", line_color=None)

    # x-axis label strip (below the tick labels)
    xl = blank_fig(width, XL_H)
    cx = left + fw / 2.0
    base = 9
    txt(xl, cx - 26, base, "b", "15px", True)
    txt(xl, cx - 16, base - 2.5, xsub, "10.5px", True)
    txt(xl, cx - 2, base, "(pc)", "15px", False)

    # y-axis label strip (left of the tick labels), text reads upwards
    yl = blank_fig(YL_W, TOTAL_H)
    cy = TOTAL_H - (TOP + FH / 2.0)
    ang = math.pi / 2
    bx = 17
    txt(yl, bx, cy - 26, "b", "15px", True, ang)
    txt(yl, bx + 2.5, cy - 16, ysub, "10.5px", True, ang)
    txt(yl, bx, cy - 2, "(pc)", "15px", False, ang)

    return row(yl, column(p, xl))


g1 = panel(36, 319, 24, (-85, -5), (-40, 40), x_ticks_bx, y_ticks_by, p1_center,
           p1_black, p1_red, p1_green, "x", "y")
g2 = panel(36, 321, 24, (-85, -5), (-60, 20), x_ticks_bx, y_ticks_bz, p2_center,
           p2_black, p2_red, p2_green, "x", "z")
g3 = panel(36, 312, 12, (-40, 40), (-60, 20), x_ticks_by, y_ticks_bz, p3_center,
           p3_black, p3_red, p3_green, "y", "z")

layout = row(g1, g2, g3)
open("out.html", "w").write(file_html(layout, INLINE))
